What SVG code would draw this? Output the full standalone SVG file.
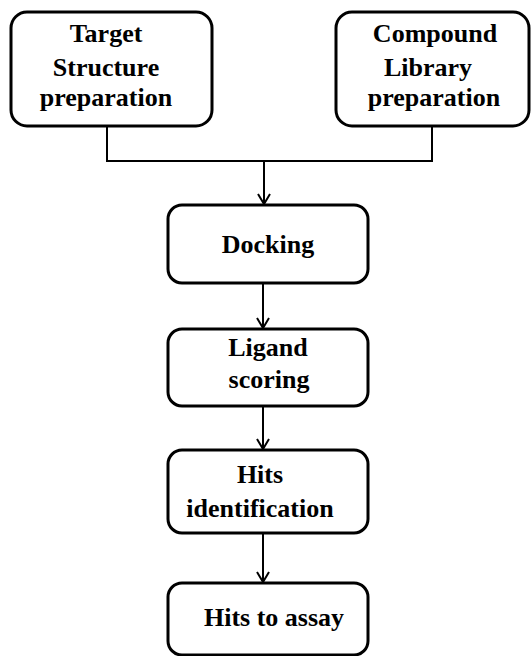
<svg xmlns="http://www.w3.org/2000/svg" width="531" height="656" viewBox="0 0 531 656">
<style>
.box{fill:#fff;stroke:#000;stroke-width:3}
.t{font-family:'Liberation Serif','Times New Roman',Times,serif;font-weight:bold;font-size:26px;fill:#000;text-anchor:middle}
.c{fill:none;stroke:#000;stroke-width:2}
</style>
<defs>
<marker id="ah" markerWidth="14" markerHeight="14" refX="12" refY="7" orient="auto" markerUnits="userSpaceOnUse" viewBox="0 0 14 14">
<path d="M2,1 L12,7 L2,13" fill="none" stroke="#000" stroke-width="2"/>
</marker>
</defs>
<rect width="531" height="656" fill="#fff"/>
<g id="connectors">
<path class="c" d="M107,126 V161 H432 V126"/>
<line class="c" x1="264" y1="161" x2="264" y2="204" marker-end="url(#ah)"/>
<line class="c" x1="263" y1="283" x2="263" y2="328" marker-end="url(#ah)"/>
<line class="c" x1="263" y1="406" x2="263" y2="449" marker-end="url(#ah)"/>
<line class="c" x1="263" y1="533" x2="263" y2="582" marker-end="url(#ah)"/>
</g>
<g id="target">
<rect class="box" x="11" y="12" width="201" height="114" rx="16"/>
<text class="t" font-family="Liberation Serif" x="106" y="42">Target</text>
<text class="t" font-family="Liberation Serif" x="106" y="76">Structure</text>
<text class="t" font-family="Liberation Serif" x="106" y="106">preparation</text>
</g>
<g id="compound">
<rect class="box" x="336" y="12" width="193" height="114" rx="16"/>
<text class="t" font-family="Liberation Serif" x="435" y="42">Compound</text>
<text class="t" font-family="Liberation Serif" x="428" y="76">Library</text>
<text class="t" font-family="Liberation Serif" x="434" y="106">preparation</text>
</g>
<g id="docking">
<rect class="box" x="168" y="205" width="200" height="78" rx="14"/>
<text class="t" font-family="Liberation Serif" x="268" y="253">Docking</text>
</g>
<g id="ligand">
<rect class="box" x="168" y="329" width="200" height="77" rx="14"/>
<text class="t" font-family="Liberation Serif" x="268" y="356">Ligand</text>
<text class="t" font-family="Liberation Serif" x="269" y="388">scoring</text>
</g>
<g id="hits">
<rect class="box" x="168" y="450" width="200" height="83" rx="14"/>
<text class="t" font-family="Liberation Serif" x="260" y="483">Hits</text>
<text class="t" font-family="Liberation Serif" x="260" y="517">identification</text>
</g>
<g id="assay">
<rect class="box" x="168" y="583" width="200" height="72" rx="14"/>
<text class="t" font-family="Liberation Serif" x="274" y="626">Hits to assay</text>
</g>
</svg>
